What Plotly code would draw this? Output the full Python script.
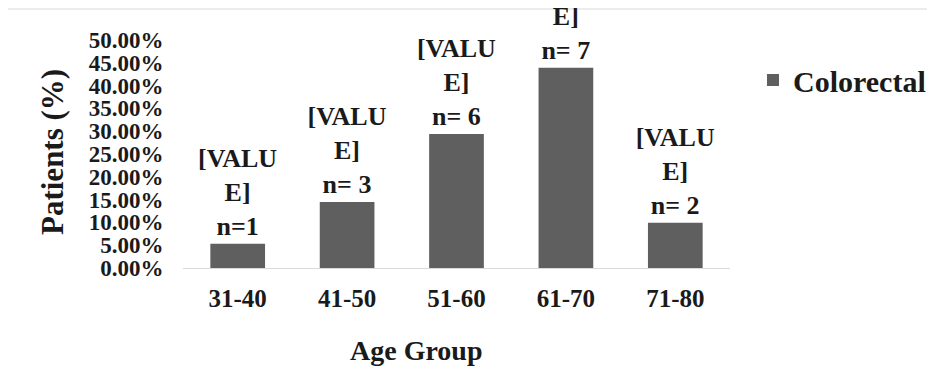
import plotly.graph_objects as go

age_groups = ["31-40", "41-50", "51-60", "61-70", "71-80"]
patients_pct = [0.053, 0.145, 0.294, 0.439, 0.099]
n_labels = ["n=1", "n= 3", "n= 6", "n= 7", "n= 2"]
value_label = "[VALU<br>E]"
series_name = "Colorectal"
y_ticks = [i * 0.05 for i in range(11)]

FONT = "Liberation Serif, Times New Roman, serif"
TXT = "#1a1a1a"

# page body has an 8px default margin; lay out in window pixels, then shift
OFF = 8
W, H = 935 - OFF, 385 - OFF
L, R, T, B = 183 - OFF, 935 - 730, 40 - OFF, 385 - 268
pw, ph = W - L - R, H - T - B


def px_x(x):
    return (x - OFF - L) / pw


def px_y(y):
    return (H - B - (y - OFF)) / ph


fig = go.Figure()
fig.add_trace(go.Bar(
    x=age_groups, y=patients_pct, name=series_name,
    marker=dict(color="#5f5f5f", line=dict(width=0)),
    text=[f"{value_label}<br>{n}" for n in n_labels],
    textposition="outside", constraintext="none", cliponaxis=False,
    textfont=dict(family=FONT, size=26, color=TXT, weight="bold"),
    showlegend=True,
))

fig.update_layout(
    width=W, height=H,
    margin=dict(l=L, r=R, t=T, b=B, autoexpand=False),
    paper_bgcolor="white", plot_bgcolor="white",
    bargap=0.5,
    showlegend=True,
    legend=dict(x=px_x(753), y=px_y(80), xanchor="left", yanchor="middle",
                font=dict(family=FONT, size=30, color=TXT, weight="bold"),
                bgcolor="rgba(0,0,0,0)", itemwidth=30),
    xaxis=dict(showline=True, linecolor="#d9d9d9", linewidth=1,
               ticks="outside", ticklen=8, tickcolor="rgba(0,0,0,0)",
               tickfont=dict(family=FONT, size=25, color=TXT, weight="bold"),
               showgrid=False, zeroline=False),
    yaxis=dict(range=[0, 0.5], tickvals=y_ticks, tickformat=".2%",
               ticks="outside", ticklen=14, tickcolor="rgba(0,0,0,0)",
               tickfont=dict(family=FONT, size=23, color=TXT, weight="bold"),
               showgrid=False, zeroline=False, showline=False),
    annotations=[
        dict(text="Age Group", xref="paper", yref="paper", x=px_x(416), y=px_y(350),
             xanchor="center", yanchor="middle", showarrow=False,
             font=dict(family=FONT, size=28, color=TXT, weight="bold")),
        dict(text="Patients (%)", xref="paper", yref="paper", x=px_x(52), y=px_y(152),
             xanchor="center", yanchor="middle", showarrow=False, textangle=-90,
             font=dict(family=FONT, size=31, color=TXT, weight="bold")),
    ],
    shapes=[
        dict(type="rect", xref="paper", yref="paper",
             x0=px_x(7), x1=px_x(960), y0=px_y(400), y1=px_y(9),
             line=dict(color="#d9d9d9", width=1), fillcolor="rgba(0,0,0,0)", layer="below"),
    ],
)

fig.write_html("out.html")
